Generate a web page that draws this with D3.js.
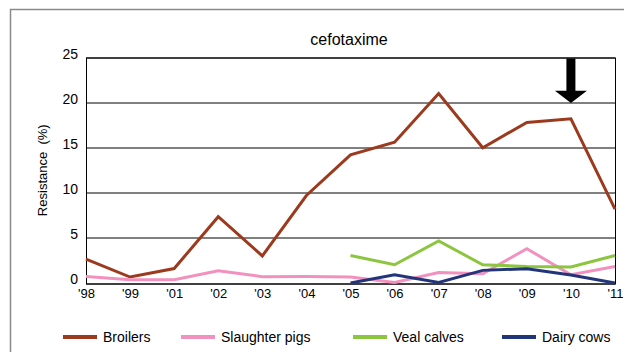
<!DOCTYPE html>
<html>
<head>
<meta charset="utf-8">
<script src="https://cdn.jsdelivr.net/npm/d3@7"></script>
<style>
  body { margin: 0; background: #fff; }
  svg { display: block; font-family: "Liberation Sans", Arial, sans-serif; }
</style>
</head>
<body>
<div id="chart"></div>
<script>
// Data
const years = ["'98", "'99", "'01", "'02", "'03", "'04", "'05", "'06", "'07", "'08", "'09", "'10", "'11"];
const broilers = [2.65, 0.66, 1.6, 7.35, 3.0, 9.7, 14.2, 15.6, 21.0, 15.0, 17.8, 18.2, 8.2];
const slaughterPigs = [0.73, 0.36, 0.36, 1.36, 0.7, 0.73, 0.66, 0.07, 1.17, 1.03, 3.8, 0.92, 1.83];
const vealCalves = [null, null, null, null, null, null, 3.05, 2.02, 4.67, 2.02, 1.83, 1.77, 3.05];
const dairyCows = [null, null, null, null, null, null, 0, 0.92, 0.07, 1.4, 1.58, 0.88, 0];
const yTicks = [0, 5, 10, 15, 20, 25];
const arrowYear = "'10";

const series = [
  { name: "Broilers", values: broilers, color: "#9c3a1e" },
  { name: "Slaughter pigs", values: slaughterPigs, color: "#f291bd" },
  { name: "Veal calves", values: vealCalves, color: "#8cc63e" },
  { name: "Dairy cows", values: dairyCows, color: "#22357a" }
];

const W = 624, H = 352;
const margin = { top: 57.5, right: 9, bottom: 69, left: 86 };
const width = W - margin.left - margin.right,
      height = H - margin.top - margin.bottom;

const svg = d3.select("#chart").append("svg")
    .attr("width", W)
    .attr("height", H);

// outer frame (runs off the right and bottom edges)
svg.append("path")
    .attr("d", `M10.5,${H + 5}V9.5H${W + 5}`)
    .attr("fill", "none")
    .attr("stroke", "#8a8a8a")
    .attr("stroke-width", 1.5);

const g = svg.append("g")
    .attr("transform", `translate(${margin.left},${margin.top})`);

const x = d3.scalePoint().domain(years).range([0, width]).padding(0);
const y = d3.scaleLinear().domain([0, 25]).range([height, 0]);

// gridlines
g.append("g")
  .selectAll("line")
  .data(yTicks)
  .join("line")
    .attr("x1", 0).attr("x2", width)
    .attr("y1", d => Math.round(y(d)) + 0.5)
    .attr("y2", d => Math.round(y(d)) + 0.5)
    .attr("stroke", "#000")
    .attr("stroke-width", 1);

// plot border
g.append("rect")
    .attr("x", 0.5).attr("y", Math.round(y(25)) + 0.5)
    .attr("width", width).attr("height", Math.round(y(0)) - Math.round(y(25)))
    .attr("fill", "none")
    .attr("stroke", "#000");

// y axis labels
const yAxis = g.append("g")
    .call(d3.axisLeft(y).tickValues(yTicks).tickSize(0).tickPadding(8));
yAxis.select(".domain").remove();
yAxis.selectAll("text")
    .attr("font-size", 14)
    .attr("font-family", "Liberation Sans, Arial, sans-serif")
    .attr("fill", "#000")
    .attr("dy", "0.05em");

// x axis labels
const xAxis = g.append("g")
    .attr("transform", `translate(0,${height})`)
    .call(d3.axisBottom(x).tickSize(0).tickPadding(6));
xAxis.select(".domain").remove();
xAxis.selectAll("text")
    .attr("font-size", 13)
    .attr("font-family", "Liberation Sans, Arial, sans-serif")
    .attr("fill", "#000");

// lines
const line = d3.line()
    .defined(d => d != null)
    .x((d, i) => x(years[i]))
    .y(d => y(d));

series.forEach(s => {
  g.append("path")
      .datum(s.values)
      .attr("fill", "none")
      .attr("stroke", s.color)
      .attr("stroke-width", 3)
      .attr("stroke-linejoin", "miter")
      .attr("d", line);
});

// arrow over '10
const ax = x(arrowYear);
const arrowTop = y(24.9), headTop = y(21.3), tip = y(19.95);
g.append("path")
    .attr("d", `M${ax - 4.5},${arrowTop}H${ax + 4.5}V${headTop}H${ax + 16}L${ax},${tip}L${ax - 16},${headTop}H${ax - 4.5}Z`)
    .attr("fill", "#000");

// title
svg.append("text")
    .attr("x", 349).attr("y", 45)
    .attr("text-anchor", "middle")
    .attr("font-size", 16)
    .text("cefotaxime");

// y title
svg.append("text")
    .attr("transform", `translate(47,${margin.top + height / 2}) rotate(-90)`)
    .attr("text-anchor", "middle")
    .attr("font-size", 13)
    .attr("xml:space", "preserve")
    .text("Resistance  (%)");

// legend
const legendX = [63, 181, 353, 502];
const legend = svg.append("g");
series.forEach((s, i) => {
  const lg = legend.append("g").attr("transform", `translate(${legendX[i]},337)`);
  lg.append("line")
      .attr("x1", 0).attr("x2", 34)
      .attr("stroke", s.color)
      .attr("stroke-width", 4);
  lg.append("text")
      .attr("x", 40).attr("y", 5)
      .attr("font-size", 14)
      .text(s.name);
});
</script>
</body>
</html>
